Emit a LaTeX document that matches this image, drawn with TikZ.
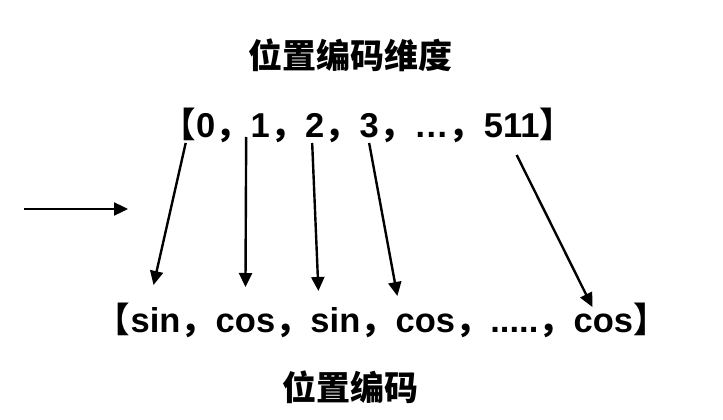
\documentclass[tikz,border=0pt]{standalone}
\usepackage{fontspec}
\setmainfont{Liberation Sans}
\newfontfamily\cjk{Noto Sans CJK SC}
\usetikzlibrary{arrows.meta,calc}
\tikzset{
  rowtxt/.style={inner sep=0pt, anchor=base west, font=\fontsize{34.5}{40}\selectfont\bfseries},
  cjkp/.style={inner sep=0pt, anchor=base west, font=\fontsize{34.5}{40}\selectfont\cjk\bfseries},
  title/.style={inner sep=0pt, font=\fontsize{34}{40}\selectfont\cjk\bfseries},
  arr/.style={-{Triangle[length=14pt,width=13pt]}, line width=2.4pt}
}
\begin{document}
\begin{tikzpicture}[x=1pt,y=-1pt]
\useasboundingbox[fill=white] (0,0) rectangle (723,420);
\node[title] (h1) at (350,55) {位置编码维度};
\node[title] (h2) at (350,387) {位置编码};
% top row
\node[cjkp] (lb1) at (161,137) {【};
\node[rowtxt] (t0) at (lb1.base east) {0};
\node[cjkp] (c1) at (t0.base east) {，};
\node[rowtxt] (t1) at (c1.base east) {1};
\node[cjkp] (c2) at (t1.base east) {，};
\node[rowtxt] (t2) at (c2.base east) {2};
\node[cjkp] (c3) at (t2.base east) {，};
\node[rowtxt] (t3) at (c3.base east) {3};
\node[cjkp] (c4) at (t3.base east) {，};
\node[rowtxt] (t4) at (c4.base east) {…};
\node[cjkp] (c5) at (t4.base east) {，};
\node[rowtxt] (t5) at (c5.base east) {511};
\node[cjkp] (rb1) at (t5.base east) {】};
% bottom row
\node[cjkp] (lb2) at (95.5,332) {【};
\node[rowtxt] (s0) at (lb2.base east) {sin};
\node[cjkp] (d1) at (s0.base east) {，};
\node[rowtxt] (s1) at (d1.base east) {cos};
\node[cjkp] (d2) at (s1.base east) {，};
\node[rowtxt] (s2) at (d2.base east) {sin};
\node[cjkp] (d3) at (s2.base east) {，};
\node[rowtxt] (s3) at (d3.base east) {cos};
\node[cjkp] (d4) at (s3.base east) {，};
\node[rowtxt] (s4) at (d4.base east) {.....};
\node[cjkp] (d5) at (s4.base east) {，};
\node[rowtxt] (s5) at (d5.base east) {cos};
\node[cjkp] (rb2) at (s5.base east) {】};
% arrows
\draw[arr] ($(t0.base)+(-20,6)$) -- ($(s0.base)+(-2,-47)$);
\draw[arr] ($(t1.base)+(-14,0)$) -- ($(s1.base)+(0,-45)$);
\draw[arr] ($(t2.base)+(-2.5,6)$) -- ($(s2.base)+(-17,-41)$);
\draw[arr] ($(t3.base)+(0,6)$) -- ($(s3.base)+(-28,-36)$);
\draw[arr] ($(t5.base)+(5,18)$) -- ($(s5.base)+(-11,-25)$);
\coordinate (la) at (24,209);
\coordinate (lb) at (128,209);
\draw[arr] (la) -- (lb);
\end{tikzpicture}
\end{document}
